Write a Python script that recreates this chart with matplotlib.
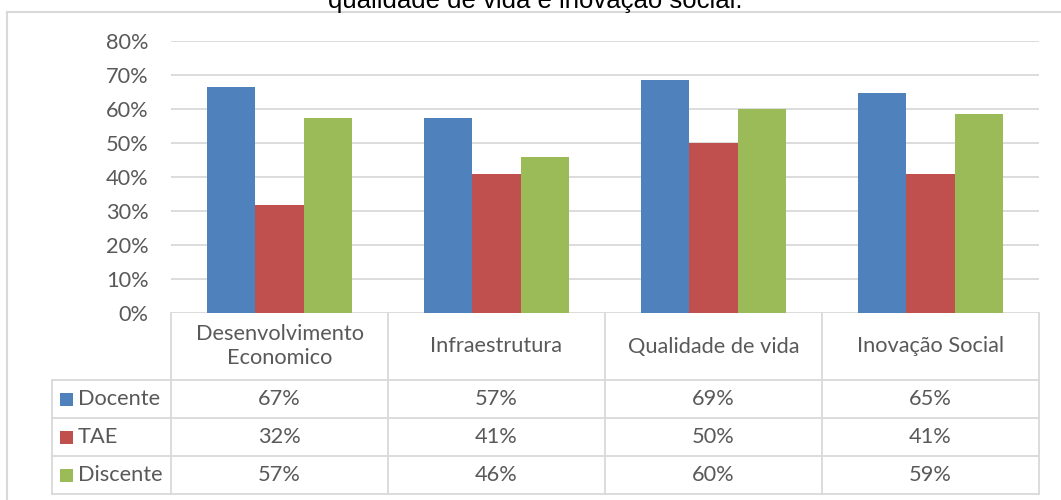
import matplotlib
matplotlib.use('Agg')
import matplotlib.pyplot as plt
from matplotlib.lines import Line2D
from matplotlib.patches import Rectangle
import matplotlib.transforms as mtrans
import numpy as np

# ---- data ----
categories = ['Desenvolvimento\nEconomico', 'Infraestrutura', 'Qualidade de vida', 'Inovação Social']
series_names = ['Docente', 'TAE', 'Discente']
docente = [0.666, 0.574, 0.686, 0.648]
tae = [0.318, 0.410, 0.500, 0.410]
discente = [0.574, 0.458, 0.600, 0.586]
y_ticks = [0.0, 0.1, 0.2, 0.3, 0.4, 0.5, 0.6, 0.7, 0.8]
title = 'qualidade de vida e inovação social.'

colors = ['#4F81BD', '#C0504D', '#9BBB59']
series = [docente, tae, discente]
TXT = '#595959'
GRID = '#D9D9D9'
FONT = 'Lato'
FS = 15.7

W, H = 1061, 500
fig = plt.figure(figsize=(W / 100, H / 100), dpi=100)


def fx(px):
    return px / W


def fy(py):
    return 1 - py / H


ax = fig.add_axes([fx(171), fy(313), fx(1039) - fx(171), fy(41) - fy(313)])
x = np.arange(len(categories))
bw = 1 / 4.5
for i, (vals, c) in enumerate(zip(series, colors)):
    ax.bar(x + (i - 1) * bw, vals, bw, color=c, zorder=3, linewidth=0)
ax.set_xlim(-0.5, len(categories) - 0.5)
ax.set_ylim(0, 0.8)
ax.set_yticks(y_ticks)
ax.set_yticklabels([f'{int(round(t * 100))}%' for t in y_ticks], family=FONT, fontsize=FS, color=TXT)
ax.yaxis.grid(True, color=GRID, linewidth=1.3)
ax.set_axisbelow(True)
for s in ax.spines.values():
    s.set_visible(False)
ax.set_xticks([])
ax.tick_params(axis='y', length=0, pad=16)

# ---- data table ----
tr = mtrans.blended_transform_factory(ax.transData, fig.transFigure)
LW = 1.3
y_top, y_head, y_rows = 313, 380, [380, 418, 456, 494]
for b in np.arange(len(categories) + 1) - 0.5:
    fig.add_artist(Line2D([b, b], [fy(y_top), fy(494)], transform=tr, color=GRID, lw=LW))
for yy in y_rows:
    fig.add_artist(Line2D([fx(52), fx(1039)], [fy(yy), fy(yy)], transform=fig.transFigure, color=GRID, lw=LW))
fig.add_artist(Line2D([fx(52), fx(52)], [fy(380), fy(494)], transform=fig.transFigure, color=GRID, lw=LW))

for i, cat in enumerate(categories):
    fig.text(i, fy((y_top + y_head) / 2), cat, transform=tr, ha='center', va='center',
             family=FONT, fontsize=FS, color=TXT, linespacing=1.25)

for r, (name, vals, c) in enumerate(zip(series_names, series, colors)):
    yc = (y_rows[r] + y_rows[r + 1]) / 2
    fig.add_artist(Rectangle((fx(60), fy(yc + 6.5)), 13 / W, 13 / H, transform=fig.transFigure,
                             facecolor=c, edgecolor='none'))
    fig.text(fx(78), fy(yc), name, ha='left', va='center', family=FONT, fontsize=FS, color=TXT)
    for i, v in enumerate(vals):
        fig.text(i, fy(yc), f'{int(round(v * 100))}%', transform=tr, ha='center', va='center',
                 family=FONT, fontsize=FS, color=TXT)

# ---- chart frame and cut-off title ----
fig.add_artist(Line2D([fx(7), 1], [fy(12), fy(12)], transform=fig.transFigure, color=GRID, lw=1.5))
fig.add_artist(Line2D([fx(7), fx(7)], [fy(12), 0], transform=fig.transFigure, color=GRID, lw=1.5))
fig.text(fx(535), fy(8), title, ha='center', va='baseline', family='Liberation Sans', fontsize=18.5, color='black')

fig.savefig('out.png', dpi=100, facecolor='white')
